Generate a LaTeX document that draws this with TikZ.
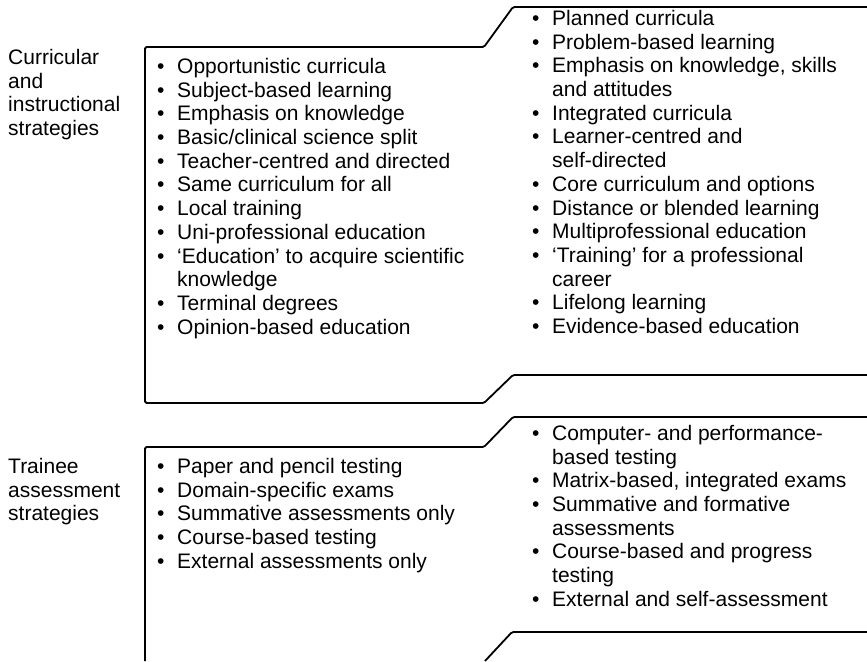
\documentclass[tikz,border=0pt]{standalone}
\usepackage{fontspec}
\setmainfont{Liberation Sans}
\usetikzlibrary{positioning}
\newcommand{\bullitem}{\makebox[20pt][l]{\textbullet}}
\newcommand{\contline}{\hspace*{20pt}}
\tikzset{
  boxline/.style={black,line width=1.8pt,line join=round,rounded corners=1.5pt},
  itemlist/.style={anchor=north west,inner sep=0pt,align=left,
    font=\fontsize{21}{23.7}\selectfont},
  rowlabel/.style={itemlist},
}

\begin{document}
\begin{tikzpicture}[x=1pt,y=-1pt]
  \useasboundingbox (0,0) rectangle (867,661);
  % upper panel: curricula
  \draw[boxline] (867,7)--(513,7)--(484,47)--(145,47)--(145,403)--(484,403)--(513,375)--(867,375);
  \node[rowlabel] (cis) at (8,49) {Curricular\\and\\instructional\\strategies};
  \node[itemlist] (oldcur) at (157,58) {\bullitem Opportunistic curricula\\
    \bullitem Subject-based learning\\
    \bullitem Emphasis on knowledge\\
    \bullitem Basic/clinical science split\\
    \bullitem Teacher-centred and directed\\
    \bullitem Same curriculum for all\\
    \bullitem Local training\\
    \bullitem Uni-professional education\\
    \bullitem `Education' to acquire scientific\\
    \contline knowledge\\
    \bullitem Terminal degrees\\
    \bullitem Opinion-based education};
  \node[itemlist] (newcur) at (532,10) {\bullitem Planned curricula\\
    \bullitem Problem-based learning\\
    \bullitem Emphasis on knowledge, skills\\
    \contline and attitudes\\
    \bullitem Integrated curricula\\
    \bullitem Learner-centred and\\
    \contline self-directed\\
    \bullitem Core curriculum and options\\
    \bullitem Distance or blended learning\\
    \bullitem Multiprofessional education\\
    \bullitem `Training' for a professional\\
    \contline career\\
    \bullitem Lifelong learning\\
    \bullitem Evidence-based education};
  % lower panel: assessment
  \draw[boxline] (145,661)--(145,447)--(484,447)--(513,417)--(867,417);
  \draw[boxline] (485,661)--(512,632)--(867,632);
  \node[rowlabel] (tas) at (8,458) {Trainee\\assessment\\strategies};
  \node[itemlist] (oldass) at (157,458) {\bullitem Paper and pencil testing\\
    \bullitem Domain-specific exams\\
    \bullitem Summative assessments only\\
    \bullitem Course-based testing\\
    \bullitem External assessments only};
  \node[itemlist] (newass) at (532,425) {\bullitem Computer- and performance-\\
    \contline based testing\\
    \bullitem Matrix-based, integrated exams\\
    \bullitem Summative and formative\\
    \contline assessments\\
    \bullitem Course-based and progress\\
    \contline testing\\
    \bullitem External and self-assessment};
\end{tikzpicture}
\end{document}
